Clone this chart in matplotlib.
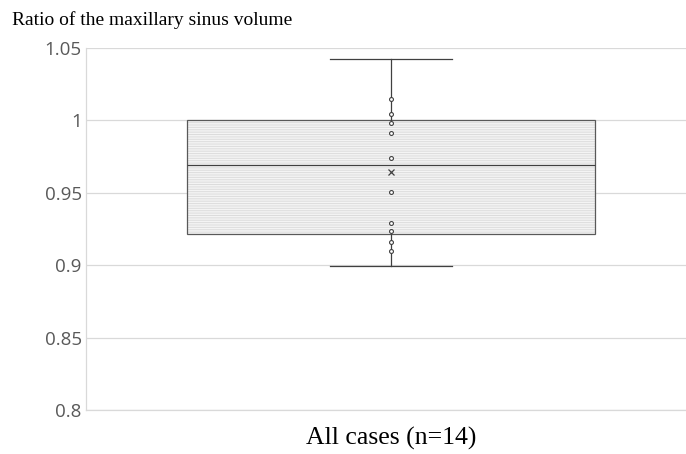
import matplotlib.pyplot as plt
from matplotlib.patches import PathPatch

# summary values for the box (Excel-style box and whisker)
q1 = 0.9217
median = 0.9693
q3 = 1.0
whisker_low = 0.8997
whisker_high = 1.0424
mean_value = 0.9647

# individual inner points drawn on the box
inner_points = [1.015, 1.0043, 0.998, 0.991, 0.9743, 0.9505, 0.929, 0.9233, 0.916, 0.910]

y_ticks = [0.8, 0.85, 0.9, 0.95, 1.0, 1.05]
y_tick_labels = ["0.8", "0.85", "0.9", "0.95", "1", "1.05"]
category = "All cases (n=14)"

fig = plt.figure(figsize=(6.86, 4.54), dpi=100)
ax = fig.add_axes([86 / 686, 1 - 410 / 454, 600 / 686, 362 / 454])

stats = [{
    "med": median, "q1": q1, "q3": q3,
    "whislo": whisker_low, "whishi": whisker_high,
    "mean": mean_value, "fliers": [],
}]
plt.rcParams["hatch.linewidth"] = 0.7
bp = ax.bxp(stats, positions=[1], widths=0.68, patch_artist=True,
            showmeans=True, showfliers=False, zorder=3,
            boxprops=dict(facecolor="none", edgecolor="#595959", linewidth=0.9),
            medianprops=dict(color="#404040", linewidth=0.9),
            whiskerprops=dict(color="#404040", linewidth=0.9),
            capprops=dict(color="#404040", linewidth=0.9),
            capwidths=0.203,
            meanprops=dict(marker="x", markeredgecolor="#404040", markersize=4.5, markeredgewidth=0.9))

# light grey fill with a horizontal line pattern, under the box outline
box = bp["boxes"][0]
pattern = PathPatch(box.get_path(), transform=box.get_transform(), facecolor="#f4f4f4",
                    edgecolor="#dcdcdc", linewidth=0, hatch="-------", zorder=2)
ax.add_patch(pattern)

ax.plot([1] * len(inner_points), inner_points, linestyle="none", marker="o",
        markersize=2.8, markerfacecolor="white", markeredgecolor="#404040",
        markeredgewidth=0.8, zorder=5)

ax.set_xlim(0.492, 1.492)
ax.set_ylim(0.8, 1.05)
ax.set_yticks(y_ticks)
ax.set_yticklabels(y_tick_labels, fontsize=13.5, color="#595959", family="Open Sans")
ax.set_xticks([1])
ax.set_xticklabels([category], fontsize=18.5, family="Liberation Serif", color="black")
ax.tick_params(axis="both", length=0)
ax.tick_params(axis="y", pad=3)
ax.tick_params(axis="x", pad=12)

ax.grid(axis="y", color="#d9d9d9", linewidth=0.9)
ax.set_axisbelow(True)
for side in ["top", "right"]:
    ax.spines[side].set_visible(False)
for side in ["left", "bottom"]:
    ax.spines[side].set_color("#d9d9d9")
    ax.spines[side].set_linewidth(0.9)

fig.text(12 / 686, 1 - 20 / 454, "Ratio of the maxillary sinus volume",
         fontsize=14, family="Liberation Serif", va="center", ha="left")

fig.savefig("out.png", dpi=100)
